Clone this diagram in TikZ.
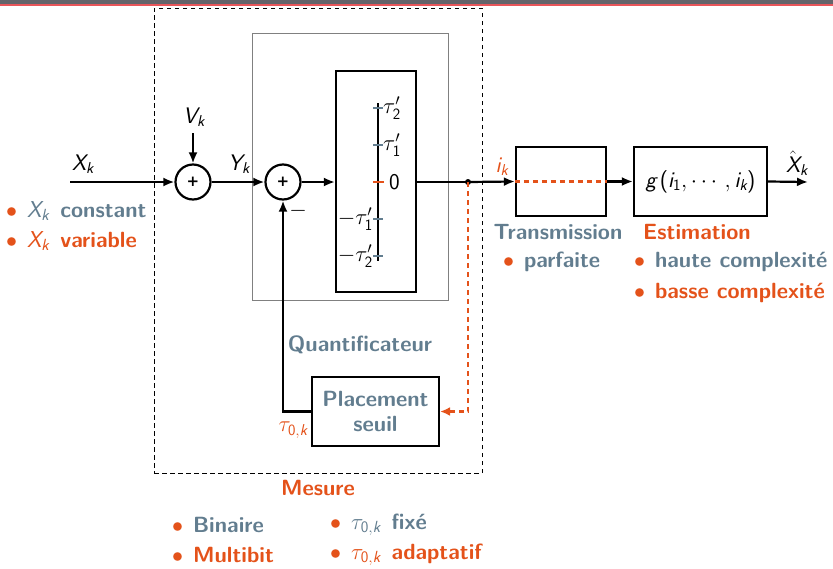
\RequirePackage{fix-cm}
\documentclass[tikz,border=0pt]{standalone}
\usepackage{amsmath}
\usepackage{fontspec}
\newfontfamily\djs{DejaVu Sans}
\usetikzlibrary{arrows.meta}
\definecolor{gb}{RGB}{98,125,143}
\definecolor{og}{RGB}{228,82,26}
\definecolor{barg}{RGB}{100,100,106}
\definecolor{barr}{RGB}{232,85,90}
\newcommand\sv[1]{\text{\sffamily\itshape #1}}
\newcommand\sr[1]{\text{\sffamily #1}}
\newcommand\bu{\textcolor{og}{$\bullet$}\hspace{0.45em}}
\newcommand\ml[1]{{\fontsize{23}{26}\selectfont\mdseries$#1$}\hspace{0.5em}}
\begin{document}
\begin{tikzpicture}[x=1pt,y=-1pt,
  lab/.style={font=\fontsize{22.5}{26}\selectfont\sffamily, inner sep=1pt},
  btx/.style={font=\fontsize{22}{26.5}\selectfont\sffamily\bfseries, inner sep=1pt},
  blk/.style={draw=black, line width=2.2pt, inner sep=0pt},
  sumc/.style={circle, draw=black, line width=2.2pt, minimum size=35pt, inner sep=0pt, font=\fontsize{15}{15}\selectfont\djs\bfseries},
  wire/.style={line width=2.2pt},
  arr/.style={wire, -{Latex[length=11pt,width=9pt]}},
  odash/.style={draw=og, line width=2.2pt, dash pattern=on 5pt off 4pt},
  bul/.style={btx, anchor=west},
]
\useasboundingbox (0,0) rectangle (833,568);
\fill[white] (0,0) rectangle (833,568);
% top bar
\fill[barg] (0,0) rectangle (833,3.7);
\fill[barr] (0,3.7) rectangle (833,5.7);

% boxes
\node[draw=black, line width=0.9pt, dash pattern=on 4.5pt off 3.5pt, minimum width=328pt, minimum height=465pt, inner sep=0pt] (mes) at (318,240.5) {};
\node[draw=gray, line width=1pt, minimum width=196pt, minimum height=267pt, inner sep=0pt] (qbox) at (350,166.5) {};
\node[blk, minimum width=80pt, minimum height=221pt] (qin) at (376,181.5) {};
\node[blk, minimum width=90pt, minimum height=69pt] (tr) at (561,181.5) {};
\node[blk, minimum width=133pt, minimum height=69pt, lab] (est) at (700.5,181.5) {$\sv{g}\,\sr{(}\sv{i}_{\sr{1}},\cdots,\sv{i}_{\sv{k}}\sr{)}$};
\node[blk, minimum width=127pt, minimum height=69pt, btx, text=gb, align=center] (pl) at (375.5,411.5) {Placement\\[-2pt]seuil};

% summers
\node[sumc] (s1) at (193,182) {+};
\node[sumc] (s2) at (283,182) {+};

% quantizer scale
\draw[wire] (378,103) -- (378,261);
\draw[gb, wire] (373,108) -- (383,108);
\draw[gb, wire] (373,145) -- (383,145);
\draw[og, wire] (373,182) -- (384,182);
\draw[gb, wire] (373,219) -- (383,219);
\draw[gb, wire] (373,256) -- (383,256);
\node[lab, anchor=west] (t2) at (382,108) {$\tau'_{\sr{2}}$};
\node[lab, anchor=west] (t1) at (382,145) {$\tau'_{\sr{1}}$};
\node[lab, anchor=west] (z0) at (388,182) {0};
\node[lab, anchor=east] (mt1) at (374,219) {$-\tau'_{\sr{1}}$};
\node[lab, anchor=east] (mt2) at (374,256) {$-\tau'_{\sr{2}}$};

% connectors
\coordinate (xin) at (70,182);
\coordinate (vin) at (193,133);
\coordinate (dot) at (468,182);
\coordinate (xout) at (808,182);
\draw[arr] (xin) -- (s1);
\draw[arr] (vin) -- (s1);
\draw[arr] (s1) -- (s2);
\draw[arr] (s2) -- (s2 -| qin.west);
\draw[wire] (qin.east |- dot) -- (dot);
\draw[arr] (dot) -- (tr.west);
\fill (dot) circle (3pt);
\draw[arr] (tr.east) -- (est.west);
\draw[arr] (est.east) -- (xout);
\draw[arr] (pl.west) -| (s2.south);
\draw[odash, -{Latex[length=10pt,width=9pt]}, og] (dot) -- (dot |- pl.east) -- (pl.east);
\draw[odash] (tr.west) -- (tr.east);

% labels
\node[lab] (lx) at (83,164) {$\sv{X}_{\sv{k}}$};
\node[lab] (lv) at (194,117) {$\sv{V}_{\sv{k}}$};
\node[lab] (ly) at (239,164) {$\sv{Y}_{\sv{k}}$};
\node[lab] (lm) at (298,211) {$-$};
\node[lab, text=og] (li) at (502,167) {$\sv{i}_{\sv{k}}$};
\node[lab] (lxh) at (797,163) {$\hat{\sv{X}}_{\sv{k}}$};
\node[lab, text=og] (ltau) at (293,430) {$\tau_{\sr{0},\sv{k}}$};

\node[btx, text=gb] (lq) at (360,345) {Quantificateur};
\node[btx, text=og] (lmes) at (318,488) {Mesure};
\node[btx, text=gb] (ltr) at (558,232) {Transmission};
\node[btx, text=og] (lest) at (697,232) {Estimation};

\node[bul, text=gb] (b1) at (502,262) {\bu parfaite};
\node[bul, text=gb] (b2) at (633,262) {\bu haute complexité};
\node[bul, text=og] (b3) at (633,293) {\bu basse complexité};
\node[bul, text=gb] (b4) at (5,211) {\bu\ml{\sv{X}_{\sv{k}}}constant};
\node[bul, text=og] (b5) at (5,241) {\bu\ml{\sv{X}_{\sv{k}}}variable};
\node[bul, text=gb] (b6) at (171,525) {\bu Binaire};
\node[bul, text=og] (b7) at (171,555) {\bu Multibit};
\node[bul, text=gb] (b8) at (329,525) {\bu\ml{\tau_{\sr{0},\sv{k}}}fixé};
\node[bul, text=og] (b9) at (329,555) {\bu\ml{\tau_{\sr{0},\sv{k}}}adaptatif};
\end{tikzpicture}
\end{document}
